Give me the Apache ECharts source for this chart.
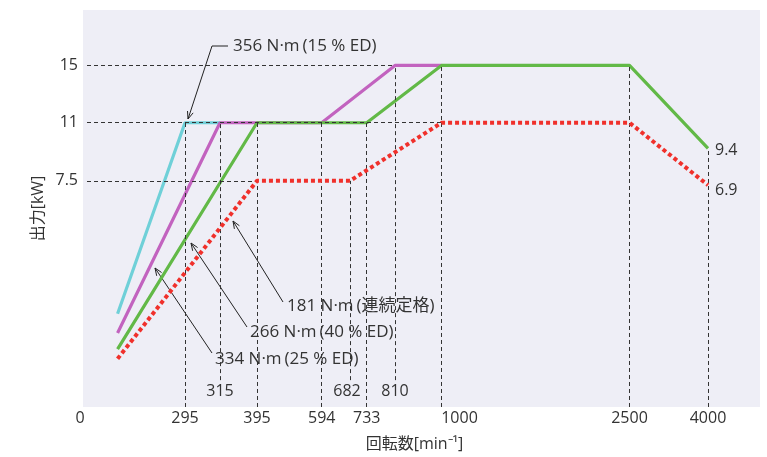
<!DOCTYPE html>
<html><head><meta charset="utf-8">
<script src="https://cdn.jsdelivr.net/npm/echarts@6/dist/echarts.min.js"></script>
<style>html,body{margin:0;padding:0;background:#fff}#c{width:767px;height:457px}</style>
</head><body><div id="c"></div>
<script>
// ---------- data ----------
const rpmTickLabels = ['0', '295', '315', '395', '594', '682', '733', '810', '1000', '2500', '4000'];
const kwTickLabels = ['7.5', '11', '15'];

const cyanRpm = [100, 295, 315];
const cyanKW = [2.9, 11, 11];
const magentaRpm = [100, 315, 594, 810, 1000];
const magentaKW = [2.3, 11, 11, 15, 15];
const greenRpm = [100, 395, 733, 1000, 2500, 4000];
const greenKW = [1.8, 11, 11, 15, 15, 9.4];
const redRpm = [100, 395, 682, 1000, 2500, 4000];
const redKW = [1.5, 7.5, 7.5, 11, 11, 6.9];
const seriesNames = ['356 N·m\u2009(15 % ED)', '334 N·m\u2009(25 % ED)', '266 N·m\u2009(40 % ED)', '181 N·m\u2009(連続定格)'];

// guide lines (dashed)
const vGuideRpm = [295, 315, 395, 594, 682, 733, 810, 1000, 2500, 4000];
const vGuideTopKW = [11, 11, 11, 11, 7.5, 11, 15, 15, 15, 9.4];
const hGuideKW = [7.5, 11, 15];
const hGuideEndRpm = [395, 1000, 810];
const raisedLabelRpm = [315, 682, 810];

// ---------- layout: schematic (piecewise) axis scales ----------
const xScaleRpm = [0, 295, 315, 395, 594, 682, 733, 810, 1000, 2500, 4000];
const xScalePos = [0, 102, 137, 174, 238.7, 267, 283.7, 312, 358.5, 546.5, 625];
const yScaleKW = [0, 6.9, 7.5, 9.4, 11, 15];
const yScalePos = [0, 223, 227.3, 260, 285.7, 343.3];
const X_MAX = 677, Y_MAX = 399;
const RAISED_START = 27, H_GUIDE_START = 4;

function interp(v, xs, ys) {
  let i = 0;
  while (i < xs.length - 2 && v > xs[i + 1]) i++;
  const t = (v - xs[i]) / (xs[i + 1] - xs[i]);
  return ys[i] + t * (ys[i + 1] - ys[i]);
}
const mapX = r => interp(r, xScaleRpm, xScalePos);
const mapY = k => interp(k, yScaleKW, yScalePos);
const toData = (rs, ks) => rs.map((r, i) => [mapX(r), mapY(ks[i])]);

const FONT = '"Open Sans", "Noto Sans CJK JP", sans-serif';
const TXT = '#333333';
const FS = 16;

const guideData = [];
vGuideRpm.forEach((r, i) => {
  const raised = raisedLabelRpm.indexOf(r) >= 0;
  const lab = { formatter: String(r), distance: 3 };
  if (r === 1000) lab.padding = [0, 0, 0, 36];
  if (r === 682) lab.padding = [0, 6, 0, 0];
  guideData.push([
    { coord: [mapX(r), raised ? RAISED_START : 0], label: lab },
    { coord: [mapX(r), mapY(vGuideTopKW[i])] }
  ]);
});
hGuideKW.forEach((k, i) => {
  guideData.push([
    { coord: [H_GUIDE_START, mapY(k)], label: { formatter: kwTickLabels[i], distance: 9 } },
    { coord: [mapX(hGuideEndRpm[i]), mapY(k)] }
  ]);
});

function lineSeries(name, rs, ks, color, extra) {
  return Object.assign({
    name, type: 'line', data: toData(rs, ks), symbol: 'none', silent: true,
    lineStyle: { color, width: 3.2 }, z: 3
  }, extra || {});
}

// annotations (leader lines + arrows)
function arrowHead(tip, from) {
  const a = Math.atan2(from[1] - tip[1], from[0] - tip[0]);
  const L = 8, s = 0.38;
  return [[tip[0] + L * Math.cos(a + s), tip[1] + L * Math.sin(a + s)], tip,
          [tip[0] + L * Math.cos(a - s), tip[1] + L * Math.sin(a - s)]];
}
const annos = [
  { text: seriesNames[0], pts: [[228, 46], [212, 46], [188, 119]], tx: 233, ty: 46 },
  { text: seriesNames[1], pts: [[212, 353], [155, 268]], tx: 215, ty: 359 },
  { text: seriesNames[2], pts: [[247, 327], [191, 243]], tx: 250, ty: 332 },
  { text: seriesNames[3], pts: [[283, 302], [233, 221]], tx: 287, ty: 306 }
];
const graphics = [];
annos.forEach(a => {
  graphics.push({ type: 'polyline', silent: true, shape: { points: a.pts }, style: { stroke: '#222', lineWidth: 1, fill: null } });
  const n = a.pts.length;
  graphics.push({ type: 'polyline', silent: true, shape: { points: arrowHead(a.pts[n - 1], a.pts[n - 2]) }, style: { stroke: '#222', lineWidth: 1, fill: null } });
  graphics.push({ type: 'text', silent: true, style: { text: a.text, x: a.tx, y: a.ty, fill: TXT, fontSize: 17, fontFamily: FONT, verticalAlign: 'middle', align: 'left' } });
});

const chart = echarts.init(document.getElementById('c'), null, { renderer: 'canvas' });
chart.setOption({
  animation: false,
  backgroundColor: '#ffffff',
  textStyle: { fontFamily: FONT },
  grid: { left: 83, right: 7, top: 10, bottom: 48, show: true, backgroundColor: '#eeeef6', borderWidth: 0 },
  xAxis: {
    type: 'value', min: 0, max: X_MAX,
    axisLine: { show: false }, axisTick: { show: false }, splitLine: { show: false },
    axisLabel: { customValues: [0], formatter: () => rpmTickLabels[0], margin: 3, color: TXT, fontSize: FS, fontFamily: FONT, padding: [0, 6, 0, 0] },
    name: '回転数[min⁻¹]', nameLocation: 'middle', nameGap: 29,
    nameTextStyle: { color: TXT, fontSize: FS, fontFamily: FONT, padding: [0, 14, 0, 0] }
  },
  yAxis: {
    type: 'value', min: 0, max: Y_MAX,
    axisLine: { show: false }, axisTick: { show: false }, splitLine: { show: false },
    axisLabel: { show: false },
    name: '出力[kW]', nameLocation: 'middle', nameGap: 37, nameRotate: 90,
    nameTextStyle: { color: TXT, fontSize: 16, fontFamily: FONT }
  },
  series: [
    {
      type: 'line', data: [], silent: true, z: 1,
      markLine: {
        silent: true, symbol: ['none', 'none'], animation: false,
        lineStyle: { type: [4, 3], color: '#333', width: 1 },
        label: { show: true, position: 'start', color: TXT, fontSize: FS, fontFamily: FONT },
        emphasis: { disabled: true },
        data: guideData
      }
    },
    lineSeries(seriesNames[0], cyanRpm, cyanKW, '#6fd0d8', { z: 2 }),
    lineSeries(seriesNames[1], magentaRpm, magentaKW, '#c263bf', { z: 3 }),
    lineSeries(seriesNames[2], greenRpm, greenKW, '#62b947', {
      z: 4,
      endLabel: { show: true, formatter: String(greenKW[greenKW.length - 1]), distance: 7, offset: [0, 2], color: TXT, fontSize: FS, fontFamily: FONT }
    }),
    lineSeries(seriesNames[3], redRpm, redKW, '#f0302b', {
      z: 5,
      lineStyle: { color: '#f0302b', width: 4, type: [4, 3], cap: 'butt' },
      endLabel: { show: true, formatter: String(redKW[redKW.length - 1]), distance: 7, offset: [0, 5], color: TXT, fontSize: FS, fontFamily: FONT }
    })
  ],
  graphic: graphics
});
</script>
</body></html>
